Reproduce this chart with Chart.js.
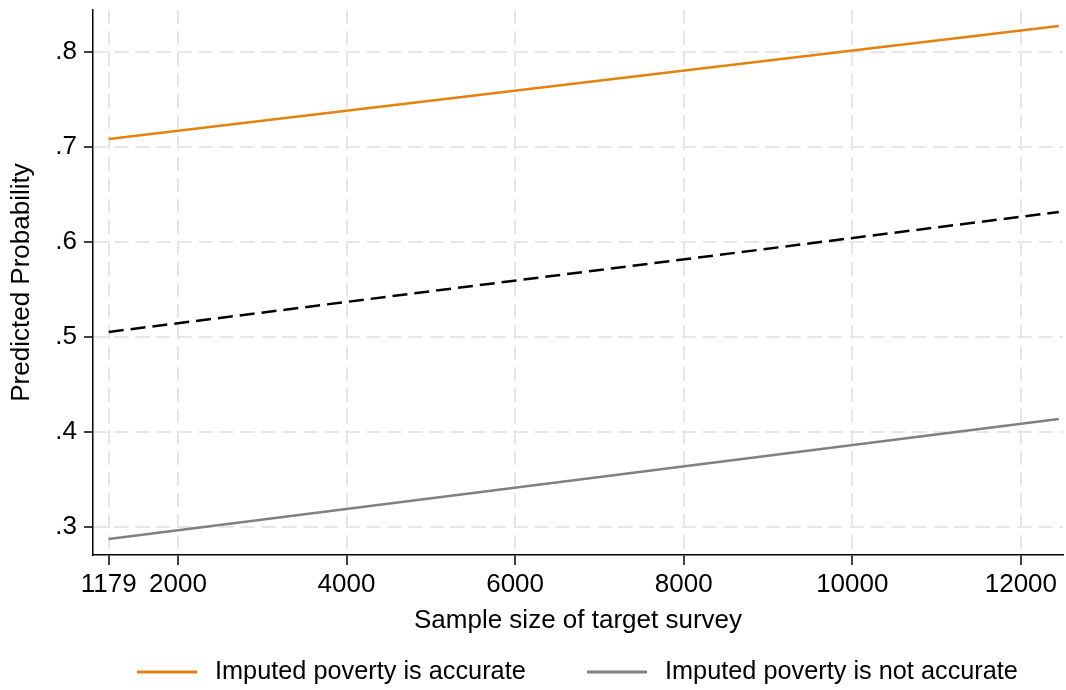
<!DOCTYPE html>
<html>
<head>
<meta charset="utf-8">
<script src="https://cdn.jsdelivr.net/npm/chart.js@4/dist/chart.umd.min.js"></script>
<style>
  html, body { margin: 0; padding: 0; background: #ffffff; }
  #wrap { width: 1066px; height: 690px; }
</style>
</head>
<body>
<div id="wrap"><canvas id="c" width="1066" height="690"></canvas></div>
<script>
// Predicted probability by sample size of the target survey
const sampleSize   = [1179, 12450];
const accurate     = [0.7084, 0.8274];
const overall      = [0.5053, 0.6316];
const notAccurate  = [0.2874, 0.4137];

const xTicks = [1179, 2000, 4000, 6000, 8000, 10000, 12000];
const yTicks = [0.3, 0.4, 0.5, 0.6, 0.7, 0.8];
const yTickLabels = ['.3', '.4', '.5', '.6', '.7', '.8'];

const seriesLabels = ['Imputed poverty is accurate', 'Imputed poverty is not accurate'];

const FONT = '"Liberation Sans", Arial, Helvetica, sans-serif';
const ORANGE = '#E3820C';
const GREY = '#808080';
const GRID = '#e6e6e6';

const toPoints = ys => sampleSize.map((x, i) => ({ x: x, y: ys[i] }));

// Legend drawn beneath the plot, showing only the two labelled series
const bottomLegend = {
  id: 'bottomLegend',
  afterDraw(chart) {
    const ctx = chart.ctx;
    const y = 672;
    const entries = [
      { ds: 0, lineX: 137 },
      { ds: 2, lineX: 587 }
    ];
    ctx.save();
    ctx.font = '25.3px ' + FONT;
    ctx.textBaseline = 'middle';
    ctx.textAlign = 'left';
    entries.forEach(e => {
      const ds = chart.data.datasets[e.ds];
      ctx.strokeStyle = ds.borderColor;
      ctx.lineWidth = 3;
      ctx.beginPath();
      ctx.moveTo(e.lineX, y);
      ctx.lineTo(e.lineX + 60, y);
      ctx.stroke();
      ctx.fillStyle = '#000000';
      ctx.fillText(ds.label, e.lineX + 78, y);
    });
    ctx.restore();
  }
};

// Drop the half-label padding Chart.js reserves around the axes
const noEdgePadding = s => {
  s.paddingTop = 0; s.paddingBottom = 0;
  s.paddingLeft = 0; s.paddingRight = 0;
};

new Chart(document.getElementById('c'), {
  type: 'line',
  data: {
    datasets: [
      {
        label: seriesLabels[0],
        data: toPoints(accurate),
        borderColor: ORANGE,
        borderWidth: 2.5,
        pointRadius: 0,
        tension: 0
      },
      {
        label: '',
        data: toPoints(overall),
        borderColor: '#000000',
        borderWidth: 2.5,
        borderDash: [15, 7],
        pointRadius: 0,
        tension: 0
      },
      {
        label: seriesLabels[1],
        data: toPoints(notAccurate),
        borderColor: GREY,
        borderWidth: 2.5,
        pointRadius: 0,
        tension: 0
      }
    ]
  },
  options: {
    responsive: false,
    animation: false,
    devicePixelRatio: 1,
    layout: { padding: { left: 0, right: 3, top: 10, bottom: 0 } },
    plugins: {
      legend: { display: false },
      tooltip: { enabled: false }
    },
    scales: {
      x: {
        type: 'linear',
        min: 992,
        max: 12500,
        afterBuildTicks: s => { s.ticks = xTicks.map(v => ({ value: v })); },
        afterFit: s => { s.height = 135; noEdgePadding(s); },
        ticks: {
          autoSkip: false,
          maxRotation: 0,
          minRotation: 0,
          padding: 4,
          color: '#000000',
          font: { family: FONT, size: 26 },
          callback: v => String(v)
        },
        grid: {
          color: GRID,
          lineWidth: 2,
          tickColor: '#000000',
          tickWidth: 1.5,
          tickLength: 10
        },
        border: { display: true, color: '#000000', width: 1.5, dash: [14, 7] },
        title: {
          display: true,
          text: 'Sample size of target survey',
          color: '#000000',
          font: { family: FONT, size: 26 },
          padding: { top: 0, bottom: 54 }
        }
      },
      y: {
        type: 'linear',
        min: 0.2705,
        max: 0.8442,
        afterBuildTicks: s => { s.ticks = yTicks.map(v => ({ value: v })); },
        afterFit: s => { s.width = 93; noEdgePadding(s); },
        ticks: {
          padding: 7,
          color: '#000000',
          font: { family: FONT, size: 26 },
          callback: v => yTickLabels[yTicks.findIndex(t => Math.abs(t - v) < 1e-9)]
        },
        grid: {
          color: GRID,
          lineWidth: 2,
          tickColor: '#000000',
          tickWidth: 1.5,
          tickLength: 9
        },
        border: { display: true, color: '#000000', width: 1.5, dash: [14, 7] },
        title: {
          display: true,
          text: 'Predicted Probability',
          color: '#000000',
          font: { family: FONT, size: 26 },
          padding: { top: 6, bottom: 0 }
        }
      }
    }
  },
  plugins: [bottomLegend]
});
</script>
</body>
</html>
